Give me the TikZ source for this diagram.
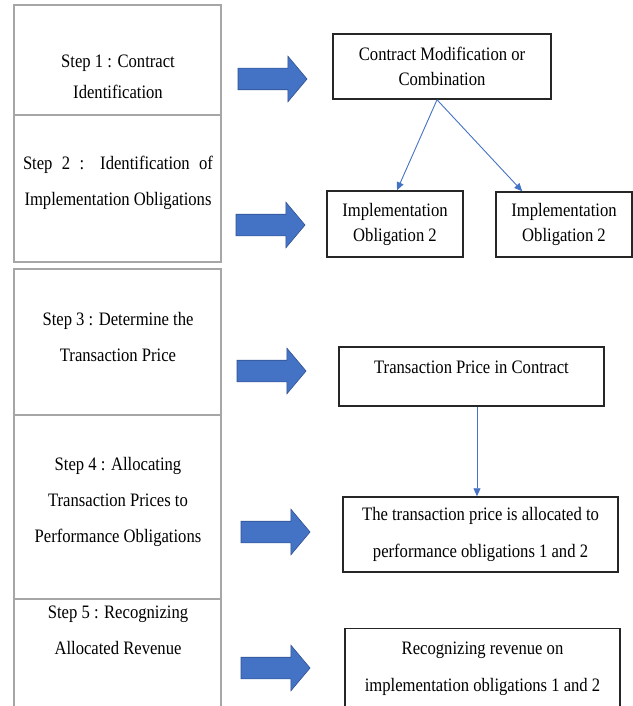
\documentclass[tikz,border=0pt]{standalone}
\usepackage{fontspec}
\setmainfont{Liberation Serif}[FakeStretch=0.875]
\usetikzlibrary{shapes.arrows,arrows.meta}
\definecolor{arrowblue}{HTML}{4472C4}
\definecolor{arrowedge}{HTML}{2F528F}
\definecolor{cellgray}{HTML}{A6A6A6}
\tikzset{
	stepcell/.style={draw=cellgray,line width=1.2pt},
	steptext/.style={align=center,inner sep=0pt,font=\fontsize{19}{36}\selectfont},
	resultbox/.style={draw=black!85,line width=1.5pt,align=center,inner sep=0pt,font=\fontsize{19}{37}\selectfont},
	obligbox/.style={resultbox,font=\fontsize{19}{25}\selectfont},
	bigarrow/.style={single arrow,fill=arrowblue,draw=arrowedge,line width=.6pt,inner xsep=0pt,inner ysep=10.5pt,
		minimum height=69pt,single arrow head extend=12pt,single arrow tip angle=100},
	thinarrow/.style={draw=arrowblue,line width=.9pt,-{Triangle[width=7pt,length=8pt]}}
}
\begin{document}
\begin{tikzpicture}[x=1pt,y=1pt]
\useasboundingbox (0,0) rectangle (632,-706);
\draw[stepcell] (14,-5) rectangle (221,-262);
\draw[stepcell] (14,-115) -- (221,-115);
\draw[stepcell] (14,-712) -- (14,-269) -- (221,-269) -- (221,-712);
\foreach \y in {415,599}
{
	\draw[stepcell] (14,-\y) -- (221,-\y);
}
\node[steptext] (step1) at (118,-77) {Step 1 : Contract\\[-5pt]Identification};
\node[steptext] (step2) at (118,-183) {\makebox[190pt][s]{Step 2 : Identification of}\\Implementation Obligations};
\node[steptext] (step3) at (118,-337) {Step 3 : Determine the\\Transaction Price};
\node[steptext] (step4) at (118,-502) {Step 4 : Allocating\\Transaction Prices to\\Performance Obligations};
\node[steptext] (step5) at (118,-630) {Step 5 : Recognizing\\Allocated Revenue};
\foreach \i/\x/\y in {1/268/79, 2/266/225, 3/267/371, 4/271/532, 5/271/668}
{
	\node[bigarrow] (arr\i) at (\x,-\y) {};
}
\node[obligbox,minimum width=218pt,minimum height=65pt] (modif) at (442,-66.5) {Contract Modification or\\Combination};
\node[obligbox,minimum width=136pt,minimum height=66pt] (oblig1) at (395,-224) {Implementation\\Obligation 2};
\node[obligbox,minimum width=136pt,minimum height=65pt] (oblig2) at (564,-224.5) {Implementation\\Obligation 2};
\node[resultbox,anchor=north,minimum width=265pt,text height=27pt,text depth=32pt] (price) at (471.5,-346) {Transaction Price in Contract};
\node[resultbox,minimum width=275pt,minimum height=75pt] (alloc) at (480.5,-534.5) {The transaction price is allocated to\\performance obligations 1 and 2};
\node[resultbox,minimum width=275pt,minimum height=80pt] (revenue) at (482.5,-668.5) {Recognizing revenue on\\implementation obligations 1 and 2};
\draw[thinarrow] ([xshift=-5pt]modif.south) -- ([xshift=2pt]oblig1.north);
\draw[thinarrow] ([xshift=-5pt]modif.south) -- ([xshift=27pt]oblig2.north west);
\draw[thinarrow] ([xshift=5.5pt]price.south) -- ([xshift=-3.5pt]alloc.north);
\end{tikzpicture}
\end{document}
